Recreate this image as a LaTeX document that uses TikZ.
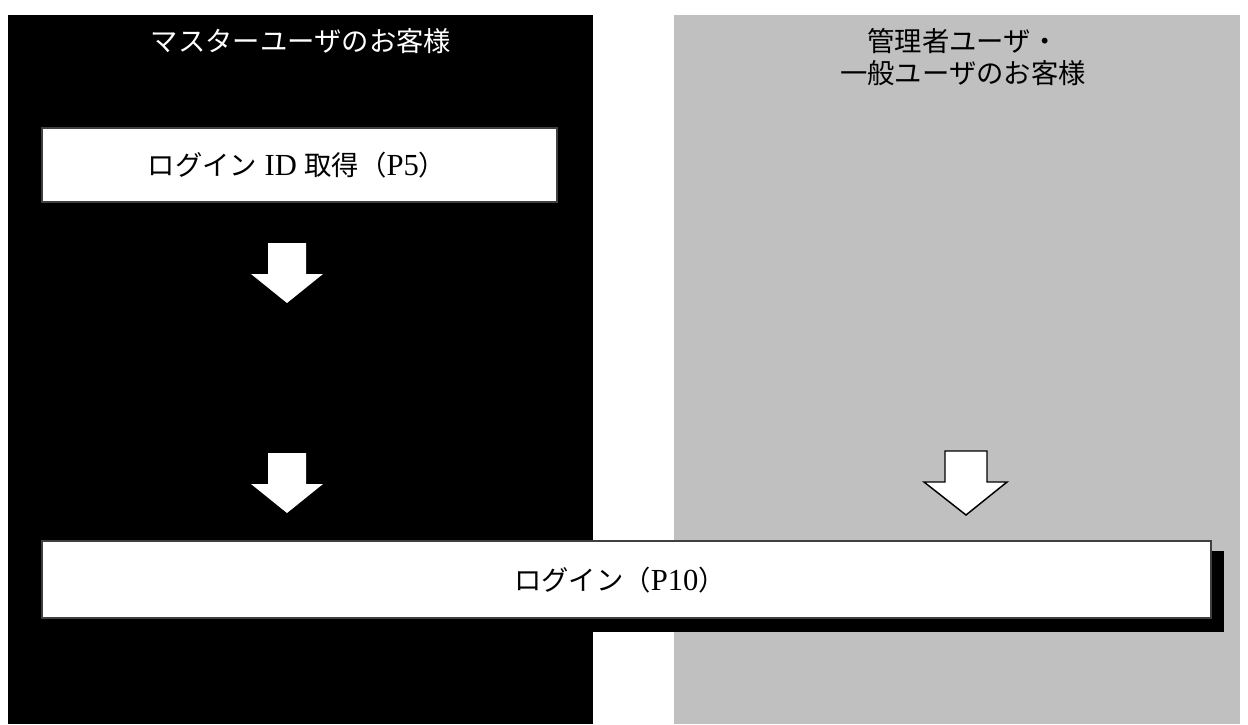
\documentclass[tikz,border=0pt]{standalone}
\usepackage{fontspec}
\setmainfont{Liberation Serif}[Scale=1.12]
\newfontfamily\jp{Noto Sans CJK JP}
\definecolor{panelgray}{HTML}{C0C0C0}
\definecolor{boxline}{HTML}{404040}
\tikzset{
  panel/.style={inner sep=0pt, outer sep=0pt},
  txt/.style={font=\fontsize{20.5}{23.5}\selectfont, inner sep=0pt, align=center},
  stepbox/.style={fill=white, draw=boxline, line width=0.9pt},
  whitearrow/.style={fill=white, draw=none},
  outlinearrow/.style={fill=white, draw=black, line width=1.1pt, line join=miter},
}
\begin{document}
\begin{tikzpicture}[x=0.75pt, y=-0.75pt]
\useasboundingbox[fill=white] (0,0) rectangle (1248,724);
% panels
\fill[black] (8,15) rectangle (593,724);
\fill[panelgray] (674,15) rectangle (1240,724);
\node[panel] (leftpanel) at (300.5,369.5) {};
\node[panel] (rightpanel) at (957,369.5) {};
% titles
\node[txt, text=white] (titleL) at (301,41) {\jp マスターユーザのお客様};
\node[txt, text=black] (titleR) at (963,57) {\jp 管理者ユーザ・\\\jp 一般ユーザのお客様};
% top step box
\draw[stepbox] (42,128) rectangle (557,202);
\node[txt] (idbox) at (297,165) {{\jp ログイン}\ ID\ {\jp 取得（}P5{\jp ）}};
% black panel arrows
\path[whitearrow] (268,243) -- (306,243) -- (306,274) -- (323,274) -- (287,303) -- (251,274) -- (268,274) -- cycle;
\path[whitearrow] (268,453) -- (306,453) -- (306,484) -- (323,484) -- (287,513) -- (251,484) -- (268,484) -- cycle;
% gray panel arrow
\draw[outlinearrow] (945,451) -- (987,451) -- (987,482) -- (1007,482) -- (966,515) -- (924,482) -- (945,482) -- cycle;
% login box with shadow
\fill[black] (54,551) rectangle (1224,632);
\draw[stepbox] (42,541) rectangle (1211,618);
\node[txt] (loginbox) at (620,580) {{\jp ログイン（}P10{\jp ）}};
\end{tikzpicture}
\end{document}
